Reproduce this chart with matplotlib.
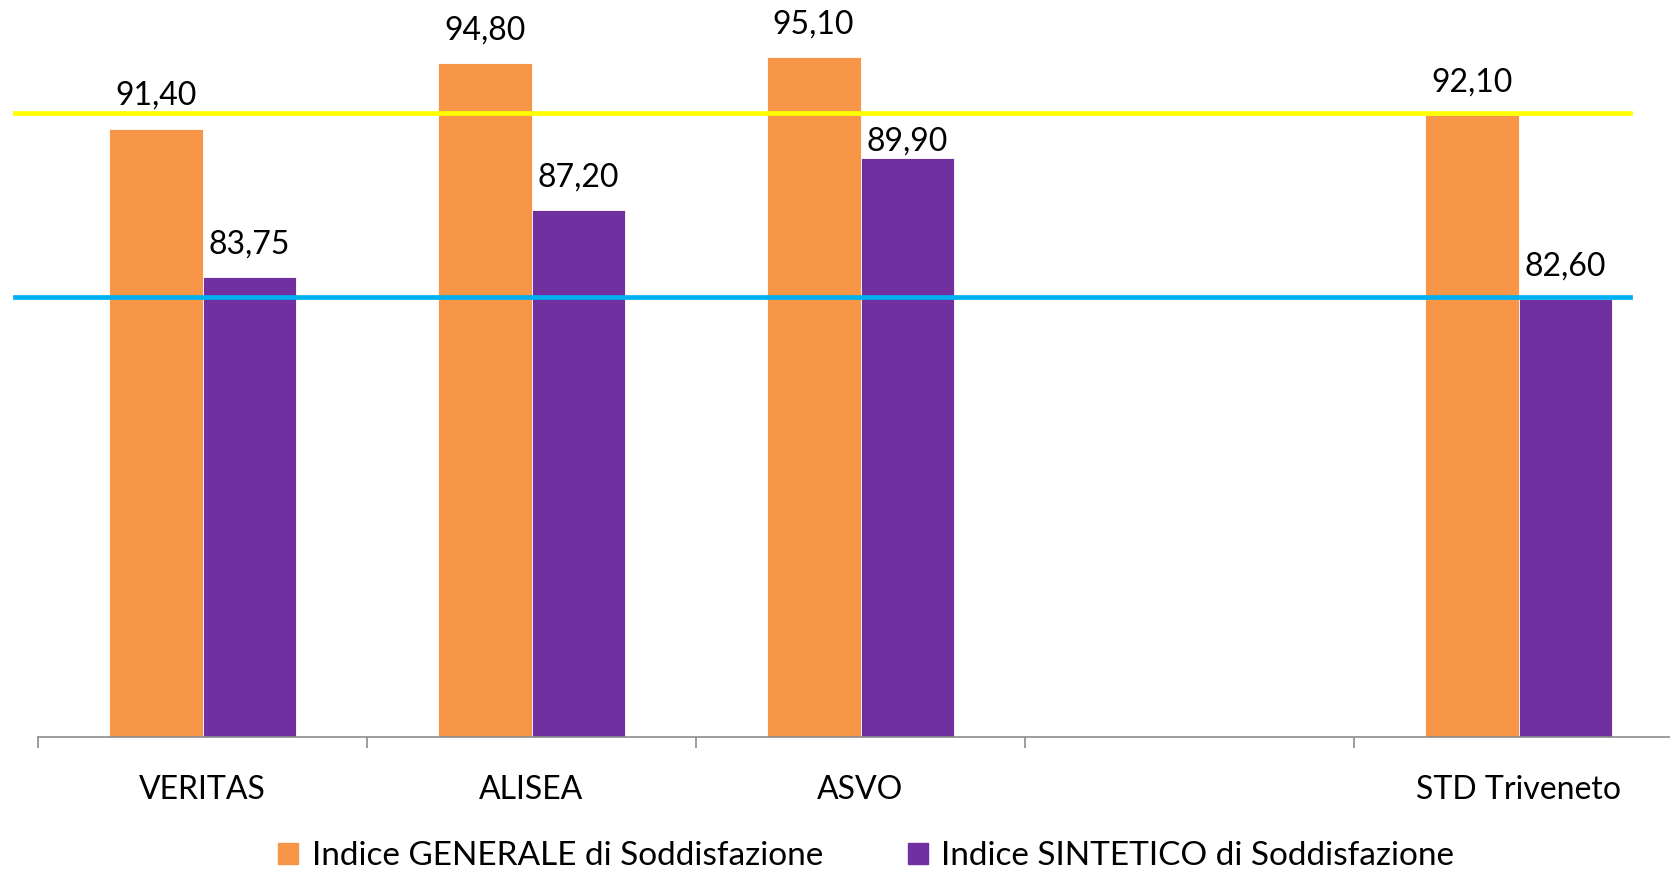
import numpy as np
import matplotlib
matplotlib.use("Agg")
from matplotlib import pyplot as plt
from matplotlib.patches import Patch

# chart data
categories = ["VERITAS", "ALISEA", "ASVO", "", "STD Triveneto"]
generale = [91.40, 94.80, 95.10, np.nan, 92.10]
sintetico = [83.75, 87.20, 89.90, np.nan, 82.60]
series_names = ["Indice GENERALE di Soddisfazione", "Indice SINTETICO di Soddisfazione"]
ref_levels = [92.2, 82.7]  # yellow / blue reference lines

orange = "#F79646"
purple = "#7030A0"
ref_colors = ["#FFFF00", "#00B0F0"]

plt.rcParams['font.family'] = ['Lato', 'DejaVu Sans']

fig = plt.figure(figsize=(16.70, 8.71), dpi=100)
# plot area runs a bit past the right edge of the picture, like the original
ax = fig.add_axes([38/1670, 134/871, 1645/1670, 737/871])

x = np.arange(len(categories))
w = 0.285
b1 = ax.bar(x - w/2, generale, w, color=orange, edgecolor="white", linewidth=0.6)
b2 = ax.bar(x + w/2, sintetico, w, color=purple, edgecolor="white", linewidth=0.6)
ax.set_ylim(60, 98.06)
ax.set_xlim(-0.5, len(categories) - 0.5)

# the ASVO sintetico label sits lower, just under the yellow line
low_label = (1, 2)
for si, (bars, vals) in enumerate([(b1, generale), (b2, sintetico)]):
    for ci, (r, v) in enumerate(zip(bars, vals)):
        if np.isnan(v):
            continue
        off = 1 if (si, ci) == low_label else 13
        ax.annotate(f"{v:.2f}".replace(".", ","), (r.get_x() + r.get_width()/2, v),
                    xytext=(0, off), textcoords="offset points",
                    ha="center", va="bottom", fontsize=23)

for lvl, c in zip(ref_levels, ref_colors):
    ax.plot([-0.57, 4.34], [lvl, lvl], color=c, lw=3.4, clip_on=False, zorder=5)

for s in ["top", "right", "left"]:
    ax.spines[s].set_visible(False)
ax.spines["bottom"].set_color("#8c8c8c")
ax.spines["bottom"].set_linewidth(1.2)
ax.set_yticks([])
ax.set_xticks(x)
ax.set_xticklabels(categories, fontsize=23)
ax.tick_params(axis="x", which="major", length=0, pad=27)
ax.set_xticks(np.arange(len(categories)) - 0.5, minor=True)
ax.tick_params(axis="x", which="minor", length=8, width=1.2, color="#8c8c8c")

handles = [Patch(color=orange), Patch(color=purple)]
ax.legend(handles, series_names, loc="center", bbox_to_anchor=(0.5036, -0.162), ncol=2,
          frameon=False, fontsize=24, handlelength=0.6, handleheight=0.6,
          handletextpad=0.4, columnspacing=2.55)

fig.savefig("out.png", dpi=100)
